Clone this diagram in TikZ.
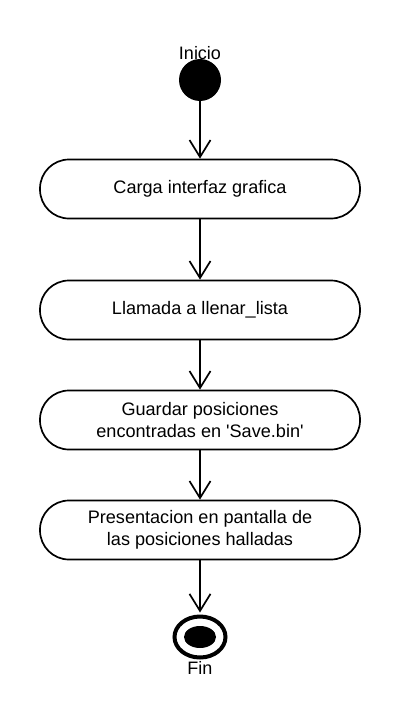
\documentclass[tikz,border=0pt]{standalone}
\usepackage{fontspec}
\setmainfont{Liberation Sans}[Ligatures=TeXOff]
\usetikzlibrary{arrows.meta,shapes.geometric}
\begin{document}
\begin{tikzpicture}[x=1pt,y=-1pt,
  actbox/.style={draw,line width=1.7pt,rounded corners=29pt,minimum width=320pt,minimum height=59pt,inner sep=0pt,align=center,font=\fontsize{18.1}{22}\selectfont},
  lbl/.style={inner sep=0pt,font=\fontsize{18}{21}\selectfont},
  flow/.style={line width=1.7pt,-{Straight Barb[length=17pt,width=21pt,line width=1.7pt]}}]
\useasboundingbox (0,0) rectangle (400,720);
\node[circle,fill=black,minimum size=42pt,inner sep=0pt] (start) at (200,80) {};
\node[lbl] (inicio) at (200,53) {Inicio};
\node[actbox] (b1) at (200,189) {Carga interfaz grafica};
\node[actbox] (b2) at (200,310) {Llamada a llenar\_lista};
\node[actbox] (b3) at (200,420) {Guardar posiciones\\encontradas en 'Save.bin'};
\node[actbox] (b4) at (200,530) {Presentacion en pantalla de\\las posiciones halladas};
\node[ellipse,draw,line width=4pt,minimum width=51pt,minimum height=41pt,inner sep=0pt] (end) at (200,637) {};
\node[ellipse,fill=black,minimum width=32pt,minimum height=22pt,inner sep=0pt] (endin) at (end.center) {};
\node[lbl] (fin) at (200,668) {Fin};
\draw[flow] (start) -- (b1);
\draw[flow] (b1) -- (b2);
\draw[flow] (b2) -- (b3);
\draw[flow] (b3) -- (b4);
\draw[flow,shorten >=2pt] (b4) -- (end);
\end{tikzpicture}
\end{document}
